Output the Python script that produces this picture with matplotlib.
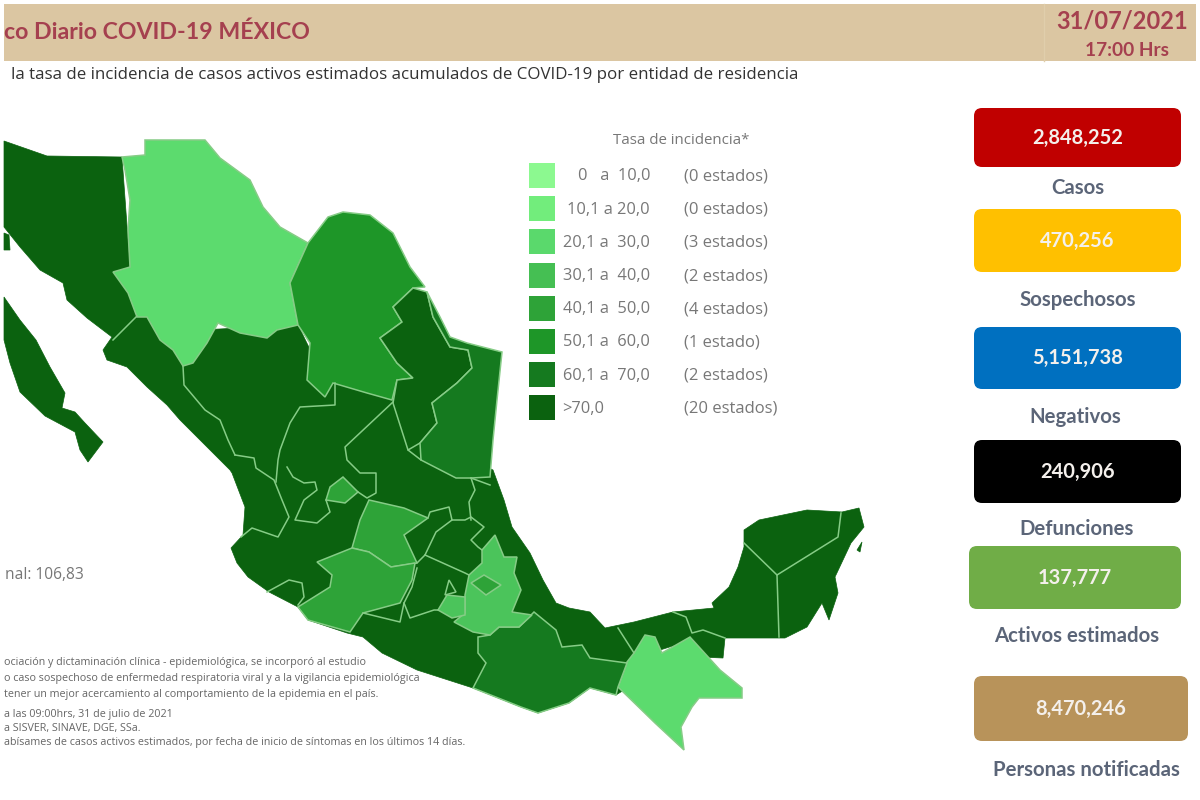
# -*- coding: utf-8 -*-
import matplotlib
matplotlib.use("Agg")
import matplotlib.pyplot as plt
from matplotlib.patches import Polygon, Rectangle, FancyBboxPatch

plt.rcParams['font.family'] = ['Lato', 'DejaVu Sans']
fuente_fina = ['Open Sans', 'DejaVu Sans']

# Datos
rangos = ['0   a  10,0', '10,1 a 20,0', '20,1 a  30,0', '30,1 a  40,0',
          '40,1 a  50,0', '50,1 a  60,0', '60,1 a  70,0', '>70,0']
estados = ['(0 estados)', '(0 estados)', '(3 estados)', '(2 estados)',
           '(4 estados)', '(1 estado)', '(2 estados)', '(20 estados)']
colores = ['#8cf990', '#72ed7c', '#5ad96c', '#45bf53',
           '#2ea338', '#1e9628', '#157a1f', '#0b620f']

cifras = ['2,848,252', '470,256', '5,151,738', '240,906', '137,777', '8,470,246']
etiquetas = ['Casos', 'Sospechosos', 'Negativos', 'Defunciones',
             'Activos estimados', 'Personas notificadas']
color_cifra = ['#c00000', '#ffc000', '#0070c0', '#000000', '#70ad47', '#b8935a']

notas = ['ociación y dictaminación clínica - epidemiológica, se incorporó al estudio',
         'o caso sospechoso de enfermedad respiratoria viral y a la vigilancia epidemiológica',
         'tener un mejor acercamiento al comportamiento de la epidemia en el país.',
         'a las 09:00hrs, 31 de julio de 2021',
         'a SISVER, SINAVE, DGE, SSa.',
         'abísames de casos activos estimados, por fecha de inicio de síntomas en los últimos 14 días.']

# Contornos del mapa en pixeles de la imagen
tierra = [(4,141),(47,156),(122,157),(130,267),(200,330),(298,325),(325,380),
          (400,300),(427,292),(440,340),(430,440),(493,470),(504,500),(512,527),
          (530,553),(543,580),(556,603),(569,608),(590,612),(605,628),(634,622),
          (673,612),(714,608),(712,603),(729,587),(738,567),(744,547),(744,530),
          (759,520),(807,510),(842,512),(859,508),(864,527),(851,543),(835,577),
          (838,593),(829,620),(822,603),(807,627),(785,638),(725,638),(723,658),
          (699,657),(692,640),(660,650),(640,680),(616,695),(590,688),(569,703),
          (538,713),(521,707),(473,688),(417,670),(382,653),(363,637),(347,633),
          (308,620),(298,607),(269,592),(248,577),(237,563),(231,548),(243,535),
          (245,507),(232,473),(230,470),(207,447),(180,420),(167,405),(147,387),
          (127,367),(107,360),(103,350),(112,337),(87,318),(67,300),(63,283),
          (40,270),(20,247),(4,227)]
baja_norte = [(4,233),(9,235),(10,250),(4,250)]
baja_sur = [(4,297),(20,320),(36,340),(50,367),(65,393),(62,408),(75,412),(85,423),
            (103,442),(88,462),(80,450),(75,432),(45,416),(20,392),(10,363),(4,340)]
cozumel = [(862,542),(860,552),(857,550)]
chihuahua = [(122,157),(145,155),(145,140),(205,140),(220,158),(250,180),(263,207),
             (280,227),(308,243),(290,283),(298,325),(277,330),(267,338),(240,333),
             (218,323),(207,343),(193,363),(183,366),(173,350),(160,340),(147,317),
             (137,317),(128,293),(113,272),(130,267),(128,230),(130,200),(125,170)]
coahuila = [(308,243),(328,217),(343,212),(370,215),(393,233),(410,267),(425,287),
            (413,288),(393,307),(402,322),(380,338),(397,363),(413,378),(397,380),
            (392,400),(367,393),(333,383),(325,397),(307,380),(310,343),(298,325),(290,283)]
nuevo_leon = [(413,288),(427,292),(433,317),(450,347),(468,350),(472,368),(457,383),
              (432,403),(437,423),(420,443),(408,450),(393,403),(397,380),(413,378),
              (397,363),(380,338),(402,322),(393,307)]
tamaulipas = [(427,292),(440,317),(450,337),(467,343),(502,352),(497,400),(493,440),
              (490,477),(471,478),(456,478),(421,460),(420,443),(437,423),(432,403),
              (457,383),(472,368),(468,350),(450,347),(433,317)]
oaxaca = [(478,637),(490,635),(499,627),(519,627),(534,612),(556,630),(562,647),
          (582,645),(590,658),(627,663),(618,687),(616,695),(590,688),(569,703),
          (538,713),(521,707),(473,688),(486,663),(478,653)]
chiapas = [(627,662),(634,653),(645,635),(655,637),(662,653),(690,637),(720,670),
           (742,688),(742,698),(699,698),(692,707),(681,727),(684,750),(655,723),(618,687)]
guanajuato = [(369,500),(404,508),(428,518),(404,535),(417,563),(391,567),(369,552),
              (352,548),(360,520)]
michoacan = [(352,548),(369,552),(391,567),(415,563),(412,580),(400,603),(363,613),
             (350,632),(308,620),(298,607),(330,587),(332,575),(317,562)]
aguascalientes = [(343,477),(358,492),(345,503),(326,500),(330,487)]
puebla = [(495,535),(504,557),(517,557),(514,573),(521,590),(512,612),(532,615),
          (519,627),(499,627),(490,635),(473,632),(454,622),(465,613),(465,595),
          (469,575),(482,563),(482,550)]
tlaxcala = [(484,575),(501,585),(486,595),(471,583)]
morelos = [(447,595),(465,597),(465,615),(452,618),(438,610)]
cdmx = [(449,580),(456,592),(445,595)]

regiones = [(chihuahua, '#5cdb6e'), (chiapas, '#5cdb6e'), (coahuila, '#1e9628'),
            (nuevo_leon, '#0b620f'), (tamaulipas, '#157a1f'), (oaxaca, '#157a1f'),
            (guanajuato, '#2ea338'), (michoacan, '#2ea338'), (aguascalientes, '#2ea338'),
            (puebla, '#4bc45b'), (tlaxcala, '#2ea338'), (morelos, '#4bc45b'),
            (cdmx, '#0b620f')]

limites = [
    [(113,340),(137,316)],
    [(183,366),(184,385),(205,410),(220,420),(228,440),(235,455)],
    [(235,455),(254,458),(256,468),(274,480),(282,500),(289,517),(278,537),(252,528),(241,537)],
    [(335,383),(335,405),(300,407),(290,423),(280,450),(278,460),(276,482)],
    [(393,402),(345,447),(347,460),(360,473),(376,473),(376,493),(367,498),(358,492)],
    [(287,467),(293,477),(304,483),(315,482),(317,490),(304,500),(295,520),(317,523),(330,512),(326,500)],
    [(267,592),(289,580),(302,583),(304,597),(298,605)],
    [(428,518),(430,512),(449,507),(452,520),(436,532),(425,555),(417,563)],
    [(452,520),(465,520),(471,517),(484,527),(471,540),(478,547),(482,550)],
    [(425,555),(465,573),(469,575)],
    [(417,568),(412,587),(404,603),(410,618),(434,610),(438,610)],
    [(363,613),(400,622),(404,603)],
    [(408,450),(421,460)],
    [(471,478),(475,490),(469,502),(471,520)],
    [(471,478),(490,485)],
    [(618,628),(634,653)],
    [(673,612),(686,617),(692,633),(703,630),(725,638)],
    [(744,543),(777,575),(838,537),(841,513)],
    [(777,575),(779,637)],
]

fig = plt.figure(figsize=(12, 8), dpi=100)
ax = fig.add_axes([0, 0, 1, 1])
ax.set_xlim(0, 1200)
ax.set_ylim(800, 0)
ax.axis('off')

# Encabezado
ax.add_patch(Rectangle((4, 4), 1192, 57, color='#dbc6a2', lw=0))
ax.plot([1044, 1044], [4, 61], color='#e0ceac', lw=1)
ax.text(4, 32, 'co Diario COVID-19 MÉXICO', fontsize=16.7, fontweight='bold',
        color='#a5404f', va='center')
ax.text(1122, 21, '31/07/2021', fontsize=17, fontweight='bold', color='#a5404f',
        ha='center', va='center')
ax.text(1127, 50, '17:00 Hrs', fontsize=13.8, fontweight='bold', color='#a5404f',
        ha='center', va='center')
ax.text(11, 75, 'la tasa de incidencia de casos activos estimados acumulados de '
        'COVID-19 por entidad de residencia', fontsize=12.2, color='#333333', va='center',
        family=fuente_fina)

# Mapa
for forma in [tierra, baja_norte, baja_sur, cozumel]:
    ax.add_patch(Polygon(forma, closed=True, fc='#0b620f', ec='#0b620f', lw=0.5))
for forma, color in regiones:
    ax.add_patch(Polygon(forma, closed=True, fc=color, ec='#86cc86', lw=1.1))
for linea in limites:
    ax.plot([p[0] for p in linea], [p[1] for p in linea], color='#86cc86', lw=1.1)

# Leyenda
ax.text(681, 140, 'Tasa de incidencia*', fontsize=10.8, color='#777777',
        ha='center', va='center', family=fuente_fina)
for i, (rango, n, color) in enumerate(zip(rangos, estados, colores)):
    y = 175.5 + i * 33.2
    ax.add_patch(Rectangle((529, y - 12.5), 26, 25, color=color, lw=0))
    if i < 7:
        ax.text(650, y + 1, rango, fontsize=11.8, color='#777777', ha='right', va='center',
                family=fuente_fina)
    else:
        ax.text(562, y + 1, rango, fontsize=11.8, color='#777777', va='center',
                family=fuente_fina)
    ax.text(684, y + 1, n, fontsize=12, color='#777777', va='center', family=fuente_fina)

# Notas
ax.text(5, 575, 'nal: 106,83', fontsize=11.2, color='#777777', va='center', family=fuente_fina)
for y, nota in zip([662, 678, 695, 715, 728, 742], notas):
    ax.text(4, y, nota, fontsize=7.75, color='#666666', va='center', family=fuente_fina)

# Tarjetas
cajas = [(974, 108, 207, 59), (974, 209, 207, 63), (974, 327, 207, 62),
         (974, 440, 207, 63), (969, 546, 212, 63), (974, 676, 214, 65)]
y_etiqueta = [188, 300, 417, 529, 636, 770]
x_etiqueta = [1078, 1078, 1075, 1077, 1077, 1086]
for (x, y, w, h), cifra, etiqueta, color, xe, ye in zip(cajas, cifras, etiquetas, color_cifra, x_etiqueta, y_etiqueta):
    ax.add_patch(FancyBboxPatch((x + 8, y + 8), w - 16, h - 16,
                                boxstyle='round,pad=8,rounding_size=8', fc=color, ec='none'))
    ax.text(x + w / 2, y + h / 2, cifra, fontsize=14.5, fontweight='bold', color='#f4f0ec',
            ha='center', va='center')
    ax.text(xe, ye, etiqueta, fontsize=14.7, fontweight='bold', color='#5b6578',
            ha='center', va='center')

fig.savefig('out.png', dpi=100)
